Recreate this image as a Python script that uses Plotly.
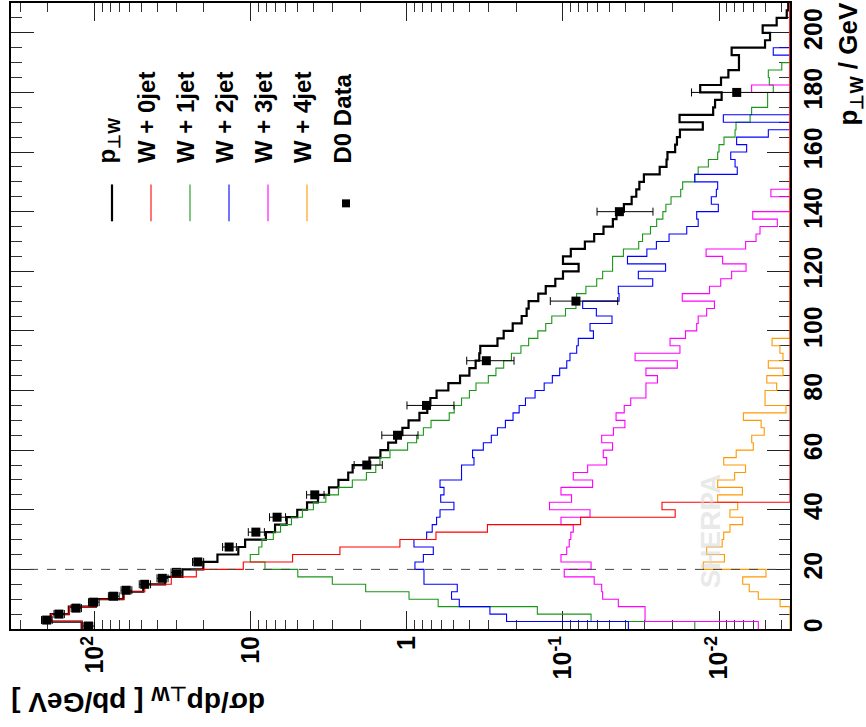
import numpy as np
import plotly.graph_objects as go

# ---------------- data ----------------
BIN_WIDTH = 2.5          # GeV, histogram bin width
QCUT = 20                # GeV, merging scale (dashed line)

ptw_total = [121.6, 192, 147, 98.6, 65.8, 49.0, 35.5, 27.5, 20.2, 16.4,
             12.05, 10.9, 8.02, 7.01, 5.90, 5.05, 4.37, 3.72, 3.16, 2.75,
             2.38, 2.23, 1.74, 1.48, 1.32, 1.175, 1.07, 0.977, 0.832, 0.741,
             0.708, 0.646, 0.543, 0.457, 0.398, 0.363, 0.344, 0.339, 0.263, 0.240,
             0.210, 0.184, 0.171, 0.166, 0.144, 0.129, 0.112, 0.100, 0.0794, 0.100,
             0.0891, 0.0724, 0.0631, 0.0550, 0.0479, 0.0454, 0.0407, 0.0363, 0.0339, 0.0324,
             0.0303, 0.0240, 0.0217, 0.0214, 0.0191, 0.0186, 0.0178, 0.0127, 0.0179, 0.0109,
             0.0106, 0.00962, 0.0132, 0.00971, 0.00871, 0.00745, 0.00745, 0.00830, 0.00507, 0.00471,
             0.00525, 0.00427, 0.00368, 0.00360]

w_0jet = [121, 191, 146, 97.7, 64.9, 47.9, 32.4, 22.4, 11.2, 5.41,
          2.69, 1.11, 0.652, 0.305, 0.0771, 0.0191, 0.0232] + [0] * 67

w_1jet = [0.0143, 0.0661, 0.146, 0.631, 0.970, 1.84, 3.01, 5.01, 8.13, 10.1,
          8.91, 8.51, 7.19, 6.46, 5.50, 4.68, 3.98, 3.31, 2.75, 2.24,
          1.82, 1.585, 1.49, 1.285, 0.991, 0.867, 0.785, 0.701, 0.536, 0.498,
          0.447, 0.398, 0.361, 0.301, 0.269, 0.240, 0.214, 0.186, 0.166, 0.145,
          0.129, 0.118, 0.0964, 0.0826, 0.0818, 0.0713, 0.0608, 0.0557, 0.0481, 0.0481,
          0.0410, 0.0327, 0.0309, 0.0275, 0.0251, 0.0229, 0.0219, 0.0203, 0.0176, 0.0171,
          0.0143, 0.0136, 0.0117, 0.0102, 0.0100, 0.00929, 0.00789, 0.00778, 0.00632, 0.00618,
          0.00488, 0.00488, 0.00449, 0.00476, 0.00483, 0.00396, 0, 0, 0, 0,
          0, 0, 0, 0]

w_2jet = [0.0381, 0.230, 0.294, 0.462, 0.518, 0.476, 0.778, 0.778, 0.889, 0.785,
          0.678, 0.902, 0.748, 0.689, 0.646, 0.614, 0.500, 0.608, 0.579, 0.614,
          0.447, 0.447, 0.372, 0.380, 0.324, 0.288, 0.263, 0.234, 0.209, 0.191,
          0.174, 0.151, 0.132, 0.117, 0.105, 0.0946, 0.0902, 0.0817, 0.0798, 0.0638,
          0.0671, 0.0485, 0.0611, 0.0748, 0.0437, 0.0442, 0.0266, 0.0329, 0.0220, 0.0386,
          0.0290, 0.0252, 0.0209, 0.0161, 0.0136, 0.0139, 0.0101, 0.0112, 0.0104, 0.0102,
          0.0143, 0.00764, 0.00789, 0.00841, 0.00665, 0.00771, 0.00483, 0, 0.00938, 0,
          0, 0, 0, 0, 0, 0, 0, 0.00449, 0, 0,
          0, 0, 0, 0]

w_3jet = [0.00560, 0.0298, 0.0298, 0.0442, 0.0557, 0.0565, 0.0631, 0.0982, 0.0661, 0.103,
          0.0946, 0.0912, 0.0891, 0.0859, 0.103, 0.0671, 0.122, 0.0881, 0.103, 0.0646,
          0.0859, 0.0695, 0.0525, 0.0552, 0.0481, 0.0565, 0.0475, 0.0401, 0.0457, 0.0405,
          0.0368, 0.0294, 0.0294, 0.0248, 0.0294, 0.0185, 0.0345, 0.0178, 0.0206, 0.0164,
          0.0139, 0.0136, 0.0120, 0.0107, 0.0172, 0.0115, 0.00975, 0.00830, 0.00671, 0.00948,
          0.0121, 0.00675, 0.00579, 0.00546, 0.00423, 0.00608, 0, 0, 0.00465, 0,
          0, 0, 0, 0, 0, 0, 0, 0, 0, 0,
          0, 0, 0.00618, 0, 0, 0, 0, 0, 0, 0,
          0, 0, 0, 0]

w_4jet = [0, 0, 0, 0.00406, 0.00560, 0.00640, 0.00705, 0.00500, 0.0126, 0.00923,
          0.0120, 0.00955, 0.00933, 0.00851, 0.00705, 0.00851, 0.00759, 0.0102, 0.00708, 0.0102,
          0.00794, 0.00676, 0.00933, 0.00776, 0.00603, 0.00617, 0.00513, 0.00537, 0.00698, 0.00372,
          0.00507, 0.00507, 0.00427, 0.00494, 0.00389, 0.00483, 0.00389, 0.00407, 0.00457] + [0] * 45

d0_pt = [1, 3, 5, 7, 9, 11, 13, 15, 17, 19, 22.5, 27.5, 32.5, 37.5, 45, 55, 65, 75, 90, 110, 140, 180]
d0_xsec = [110, 204, 170, 132, 102, 76, 63, 48, 37, 30, 21.9, 13.8, 9.3, 6.8, 3.9, 1.81, 1.15,
           0.75, 0.31, 0.0826, 0.0435, 0.0077]
d0_err = [9, 16, 13, 10, 8, 6, 5, 4, 3, 2.5, 1.8, 1.4, 1.1, 0.8, 0.5, 0.37, 0.3, 0.25, 0.104,
          0.038, 0.017, 0.0073]

x_tickvals = [100, 10, 1, 0.1, 0.01]
x_ticktext = ['10<sup>2</sup>', '10', '1', '10<sup>-1</sup>', '10<sup>-2</sup>']
y_tickvals = [0, 20, 40, 60, 80, 100, 120, 140, 160, 180, 200]

legend_labels = ['p<sub>⊥W</sub>', 'W + 0jet', 'W + 1jet', 'W + 2jet', 'W + 3jet', 'W + 4jet']

# ---------------- styling ----------------
XRANGE_LOG = [2.538, -2.455]
YRANGE = [0, 210]
FONT = 'Liberation Sans'
W, H = 866, 727
PL, PR, PT, PB = 11, 790, 1, 629   # plot area in pixels

COLORS = ['#000000', '#ff0000', '#1a961a', '#0000ff', '#ff00ff', '#ff9900']
WIDTHS = [2.2, 1.1, 1.1, 1.1, 1.1, 1.1]


def fx(px):
    return (px - PL) / (PR - PL)


def fy(py):
    return (PB - py) / (PB - PT)


floor = 10 ** min(XRANGE_LOG)


def hist_trace(vals, color, width):
    n = len(vals)
    edges = np.arange(n + 1) * BIN_WIDTH
    xs = [v if v > 0 else floor for v in vals]
    xs = xs + [xs[-1]]
    return go.Scatter(x=xs, y=edges, mode='lines',
                      line=dict(shape='vh', color=color, width=width),
                      hoverinfo='skip', showlegend=False)


fig = go.Figure()
series = [ptw_total, w_0jet, w_1jet, w_2jet, w_3jet, w_4jet]
order = [0, 2, 3, 4, 5, 1]
for i in order:
    fig.add_trace(hist_trace(series[i], COLORS[i], WIDTHS[i]))

fig.add_trace(go.Scatter(
    x=d0_xsec, y=d0_pt, mode='markers',
    marker=dict(symbol='square', size=9, color='black'),
    error_x=dict(type='data', array=d0_err, arrayminus=d0_err, color='black',
                 thickness=1, width=4),
    showlegend=False, hoverinfo='skip'))

minor_x = [d * 10.0 ** e for e in range(-3, 3) for d in range(2, 10)]

tickfont = dict(family=FONT, size=25, color='black', weight='bold')

fig.update_xaxes(
    type='log', range=XRANGE_LOG, showgrid=False, zeroline=False,
    showline=True, linecolor='black', linewidth=2, mirror='ticks',
    ticks='inside', ticklen=18, tickwidth=1, tickcolor='#222',
    tickmode='array', tickvals=x_tickvals, ticktext=x_ticktext,
    tickangle=-90, tickfont=tickfont, layer='below traces',
    minor=dict(tickmode='array', tickvals=minor_x, ticks='inside', ticklen=9,
               tickwidth=1, tickcolor='#333', showgrid=False))
try:
    fig.update_xaxes(ticklabelstandoff=-5)
except Exception:
    pass

fig.update_yaxes(
    range=YRANGE, side='right', showgrid=False, zeroline=False,
    showline=True, linecolor='black', linewidth=2, mirror='ticks',
    ticks='inside', ticklen=23, tickwidth=1, tickcolor='#222',
    tickmode='array', tickvals=y_tickvals,
    tickangle=-90, tickfont=tickfont, layer='below traces',
    minor=dict(dtick=5, ticks='inside', ticklen=11, tickwidth=1,
               tickcolor='#333', showgrid=False))

shapes = [dict(type='line', xref='paper', yref='y', x0=0, x1=1, y0=QCUT, y1=QCUT,
               line=dict(color='#444', width=1, dash='dash'))]

annotations = []
leg_cols = [112, 151, 190, 229, 268, 307]
for lbl, col, c, w in zip(legend_labels, leg_cols, COLORS, WIDTHS):
    shapes.append(dict(type='line', xref='paper', yref='paper',
                       x0=fx(col), x1=fx(col), y0=fy(183), y1=fy(220),
                       line=dict(color=c, width=w)))
    annotations.append(dict(xref='paper', yref='paper', x=fx(col - 4), y=fy(164),
                            xanchor='center', yanchor='bottom', text=lbl,
                            textangle=-90, showarrow=False,
                            font=dict(family=FONT, size=24, color='black', weight='bold')))
# D0 legend entry
shapes.append(dict(type='rect', xref='paper', yref='paper',
                   x0=fx(342), x1=fx(350), y0=fy(206), y1=fy(198),
                   fillcolor='black', line=dict(width=0)))
annotations.append(dict(xref='paper', yref='paper', x=fx(342), y=fy(164),
                        xanchor='center', yanchor='bottom', text='D0 Data',
                        textangle=-90, showarrow=False,
                        font=dict(family=FONT, size=24, color='black', weight='bold')))

# axis titles
annotations.append(dict(xref='paper', yref='paper', x=fx(9), y=fy(700),
                        xanchor='left', yanchor='middle',
                        text='dσ/dp<sub>⊥W</sub> [ pb/GeV ]', textangle=180, showarrow=False,
                        font=dict(family=FONT, size=28, color='black', weight='bold')))
annotations.append(dict(xref='paper', yref='paper', x=fx(850), y=fy(-1),
                        xanchor='center', yanchor='top',
                        text='p<sub>⊥W</sub> / GeV', textangle=-90, showarrow=False,
                        font=dict(family=FONT, size=26, color='black', weight='bold')))
# watermark
annotations.append(dict(xref='paper', yref='paper', x=fx(710), y=fy(531),
                        xanchor='center', yanchor='middle', text='SHERPA',
                        textangle=-90, showarrow=False,
                        font=dict(family=FONT, size=28, color='rgba(215,215,215,0.55)',
                                  weight='bold')))

fig.update_layout(
    width=W, height=H,
    margin=dict(l=PL, r=W - PR, t=PT, b=H - PB, pad=0),
    plot_bgcolor='white', paper_bgcolor='white',
    showlegend=False, shapes=shapes, annotations=annotations,
    font=dict(family=FONT))

fig.write_html('out.html', config={'displayModeBar': False},
               post_script="document.body.style.margin='0';document.body.style.overflow='hidden';")
